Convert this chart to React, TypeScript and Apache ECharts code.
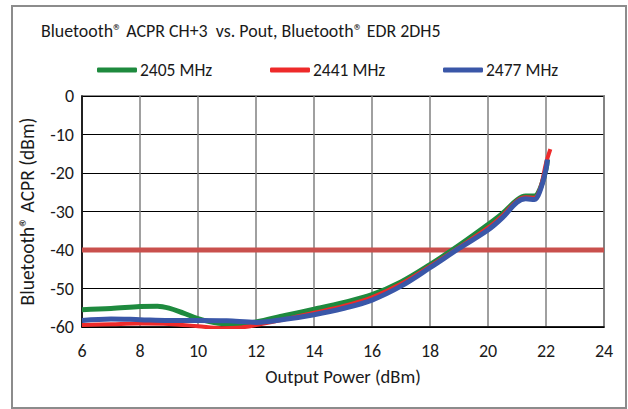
import React, { useEffect, useRef } from "react";
import * as echarts from "echarts";

const titleText = "Bluetooth® ACPR CH+3  vs. Pout, Bluetooth® EDR 2DH5";
const seriesNames = ["2405 MHz", "2441 MHz", "2477 MHz"];

const greenX = [6, 7, 8, 8.6, 9, 9.5, 10, 10.7, 11.3, 12, 13, 14, 15, 16, 17, 18, 19, 20, 20.5, 21, 21.3, 21.6, 21.8, 22, 22.05];
const greenY = [-55.5, -55.2, -54.7, -54.6, -55.1, -56.4, -57.8, -59, -59.2, -58.7, -57, -55.4, -53.7, -51.6, -48.3, -43.8, -38.8, -33.4, -30.5, -27, -26, -26, -24, -19, -16.5];

const redX = [6, 7, 8, 9, 10, 10.8, 11.5, 12, 13, 14, 15, 16, 17, 18, 19, 20, 20.5, 21, 21.3, 21.6, 21.8, 22, 22.15];
const redY = [-59.5, -59.3, -59.1, -59.2, -59.8, -60.3, -60.1, -59.5, -58, -56.3, -54.6, -52.3, -48.8, -44.2, -39.3, -34.2, -31, -27.2, -26.3, -26.4, -24, -17.5, -13.8];

const blueX = [6, 7, 8, 9, 10, 11, 12, 13, 14, 15, 16, 17, 18, 19, 20, 20.5, 21, 21.3, 21.6, 21.8, 22, 22.05];
const blueY = [-58.3, -57.9, -58.1, -58.3, -58.3, -58.4, -58.8, -58, -56.8, -55.2, -53, -49.4, -44.6, -39.6, -34.8, -31.6, -27.6, -26.7, -26.9, -24.5, -19, -16.5];

const limitX = [6, 24];
const limitY = [-40, -40];

const colors = ["#1E8A3E", "#EE2A2A", "#3A57A8"];
const FONT = 'Carlito, "Noto Sans", sans-serif';

const zip = (xs: number[], ys: number[]) => xs.map((x, i) => [x, ys[i]]);

export default function App() {
  const ref = useRef<HTMLDivElement>(null);
  useEffect(() => {
    document.body.style.margin = "0";
    const chart = echarts.init(ref.current!, undefined, { renderer: "svg" });
    const legendLefts = [92, 265, 438];
    chart.setOption({
      animation: false,
      backgroundColor: "#fff",
      textStyle: { fontFamily: FONT },
      title: {
        text: titleText,
        left: 36,
        top: 17,
        textStyle: { fontFamily: FONT, fontSize: 17.9, fontWeight: "normal", color: "#1a1a1a" },
      },
      legend: seriesNames.map((n, i) => ({
        data: [n],
        left: legendLefts[i],
        top: 56,
        itemWidth: 40,
        itemHeight: 5,
        itemGap: 4,
        icon: "roundRect",
        textStyle: { fontFamily: FONT, fontSize: 17.5, color: "#1a1a1a", padding: [0, 0, 0, -2] },
      })),
      grid: {
        left: 82,
        right: 24,
        top: 96,
        bottom: 82,
        show: true,
        borderColor: "#8c8c8c",
        borderWidth: 2,
        backgroundColor: "transparent",
      },
      xAxis: {
        type: "value",
        min: 6,
        max: 24,
        interval: 2,
        name: "Output Power (dBm)",
        nameLocation: "middle",
        nameGap: 40,
        nameTextStyle: { fontFamily: FONT, fontSize: 18.5, color: "#1a1a1a" },
        axisLine: { show: true, onZero: false, lineStyle: { color: "#000", width: 1.5 } },
        axisTick: { show: false },
        axisLabel: { fontFamily: FONT, fontSize: 18, color: "#1a1a1a", margin: 15 },
        splitLine: { show: true, lineStyle: { color: "#808080", width: 1.5 } },
      },
      yAxis: {
        type: "value",
        min: -60,
        max: 0,
        interval: 10,
        name: "Bluetooth® ACPR (dBm)",
        nameLocation: "middle",
        nameGap: 45,
        nameTextStyle: { fontFamily: FONT, fontSize: 19.5, color: "#1a1a1a" },
        axisLine: { show: true, onZero: false, lineStyle: { color: "#000", width: 1.5 } },
        axisTick: { show: false },
        axisLabel: { fontFamily: FONT, fontSize: 18, color: "#1a1a1a", margin: 8 },
        splitLine: { show: true, lineStyle: { color: "#000", width: 1.2 } },
      },
      graphic: [
        {
          type: "rect",
          shape: { x: 12, y: 6, width: 614, height: 402 },
          style: { fill: "none", stroke: "#8c8c8c", lineWidth: 2 },
          silent: true,
        },
      ],
      series: [
        {
          name: "limit",
          type: "line",
          data: zip(limitX, limitY),
          symbol: "none",
          lineStyle: { color: "#C9504D", width: 5 },
          itemStyle: { color: "#C9504D" },
          z: 1,
        },
        ...[zip(greenX, greenY), zip(redX, redY), zip(blueX, blueY)].map((d, i) => ({
          name: seriesNames[i],
          type: "line",
          data: d,
          symbol: "none",
          smooth: 0.35,
          lineStyle: { color: colors[i], width: i === 1 ? 4 : 5 },
          itemStyle: { color: colors[i] },
          z: 2 + i,
        })),
      ],
    });
    return () => chart.dispose();
  }, []);
  return <div ref={ref} style={{ width: 628, height: 409 }} />;
}
